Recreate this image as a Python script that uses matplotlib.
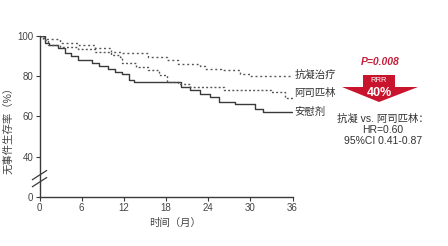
import matplotlib
matplotlib.use("Agg")
import matplotlib.pyplot as plt
from matplotlib.patches import Polygon
from matplotlib.lines import Line2D

plt.rcParams["font.family"] = ["Liberation Sans", "Noto Sans CJK SC"]

# 安慰剂 (solid)
t_placebo = [0, 0.85, 1.4, 2.6, 3.6, 4.5, 5.5, 7.4, 8.5, 9.7, 10.7, 11.8, 12.8, 13.5,
             20.2, 21.4, 22.8, 24.3, 25.6, 27.8, 30.6, 31.8, 36]
s_placebo = [100, 96.7, 95.5, 93.8, 91.7, 90, 88.3, 86.7, 85.2, 83.8, 82.2, 81.3, 78, 77.2,
             74.7, 73, 71.3, 69.7, 67.2, 66.3, 63.8, 62.2, 62.2]
# 阿司匹林 (middle dotted)
t_aspirin = [0, 0.5, 1.2, 2.9, 5.5, 7.9, 10.2, 11.4, 11.8, 13.8, 15.4, 17, 18.1, 19.7,
             21.4, 26.3, 32.9, 34.9, 36]
s_aspirin = [100, 98, 95.5, 94.7, 93.3, 92.2, 90.5, 89.7, 86.8, 84.7, 83, 80.5, 77.2, 76.3,
             74.7, 73.3, 72.2, 69.2, 69.2]
# 抗凝治疗 (top dotted)
t_anticoag = [0, 0.7, 2.9, 5.5, 7.9, 10.2, 11.8, 15.4, 18.2, 19.7, 22.8, 23.5, 25.8, 28.6, 30, 36]
s_anticoag = [100, 98.3, 96.7, 95.5, 93.8, 92.2, 91.3, 89.7, 88.3, 86.3, 85, 83.8, 83, 81.3, 80.2, 80.2]

labels = ["抗凝治疗", "阿司匹林", "安慰剂"]
label_y = [80.5, 71.5, 62]
xticks = [0, 6, 12, 18, 24, 30, 36]
yticks = [20, 40, 60, 80, 100]          # 20 is drawn as 0 (broken axis)
ytick_labels = ["0", "40", "60", "80", "100"]

W, H = 448, 246
fig = plt.figure(figsize=(W / 100, H / 100), dpi=100)
ax = fig.add_axes([39.5 / W, 1 - 196.7 / H, 253 / W, 160.7 / H])

col = "#3a3a3a"
ax.step(t_placebo, s_placebo, where="post", color=col, lw=1.0)
ax.step(t_aspirin, s_aspirin, where="post", color="#555555", lw=1.0, ls=(0, (1.4, 1.6)))
ax.step(t_anticoag, s_anticoag, where="post", color="#555555", lw=1.0, ls=(0, (1.4, 2.0)))

ax.set_xlim(0, 36)
ax.set_ylim(20, 100)
ax.set_xticks(xticks)
ax.set_yticks(yticks)
ax.set_yticklabels(ytick_labels)
for s in ["top", "right"]:
    ax.spines[s].set_visible(False)
for s in ["left", "bottom"]:
    ax.spines[s].set_color(col)
    ax.spines[s].set_linewidth(1.0)
ax.tick_params(length=3, width=0.8, color=col, labelcolor="#444444", labelsize=7, pad=1.5)

ax.set_ylabel("无事件生存率（%）", fontsize=7.5, color="#444444")
ax.yaxis.set_label_coords(-0.105, 0.43)
ax.set_xlabel("时间（月）", fontsize=7.5, color="#444444")
ax.xaxis.set_label_coords(0.535, -0.13)

# axis break marks
for dy in (0, 3.5):
    ax.add_line(Line2D([-1.0, 1.0], [25 + dy, 29.5 + dy], color=col, lw=0.9, clip_on=False))

for lab, yv in zip(labels, label_y):
    ax.text(36.3, yv, lab, fontsize=7.5, color="#333333", va="center", ha="left", clip_on=False)

# red arrow
def fp(px, py):
    return (px / W, 1 - py / H)

arrow_px = [(363, 75), (395, 75), (395, 87), (418, 87), (379, 102), (342, 87), (363, 87)]
fig.add_artist(Polygon([fp(*p) for p in arrow_px], closed=True, transform=fig.transFigure,
                       facecolor="#c8142c", edgecolor="none"))
fig.text(*fp(379, 80.5), "RRR", color="white", fontsize=5.5, ha="center", va="center")
fig.text(*fp(379, 93), "40%", color="white", fontsize=9, ha="center", va="center", weight="bold")
fig.text(*fp(380, 62), "P=0.008", color="#c41e3a", fontsize=7.5, ha="center", va="center",
         weight="bold", style="italic")

fig.text(*fp(383, 119), "抗凝 vs. 阿司匹林：", color="#333333", fontsize=7.5, ha="center", va="center")
fig.text(*fp(383, 130), "HR=0.60", color="#333333", fontsize=7.5, ha="center", va="center")
fig.text(*fp(383, 141), "95%CI 0.41-0.87", color="#333333", fontsize=7.5, ha="center", va="center")

fig.savefig("out.png", dpi=100)
